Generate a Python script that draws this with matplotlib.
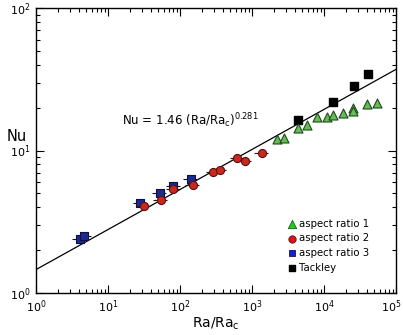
import numpy as np
import matplotlib
matplotlib.use("Agg")
import matplotlib.pyplot as plt
from matplotlib.ticker import LogLocator, NullFormatter, FixedLocator, FixedFormatter

# Data (Ra/Rac, Nu)
ar1_x = [2245, 2780, 4400, 5860, 7910, 10900, 13500, 18600, 25500, 25500, 40000, 53900]
ar1_y = [12.0, 12.2, 14.5, 15.2, 17.1, 17.3, 17.8, 18.4, 19.8, 19.0, 21.2, 21.6]

ar2_x = [31.9, 54.5, 80.7, 150, 290, 359, 625, 800, 1364]
ar2_y = [4.08, 4.49, 5.34, 5.70, 7.03, 7.30, 8.81, 8.48, 9.65]

ar3_x = [4.08, 4.69, 28.1, 52.7, 80.7, 141]
ar3_y = [2.38, 2.51, 4.30, 5.01, 5.66, 6.28]

tack_x = [4400, 13500, 26100, 40800]
tack_y = [16.4, 21.9, 28.4, 34.4]

xerr_frac = 0.22  # relative horizontal error bar half-width (ar2, ar3)

x_ticks = [1, 10, 100, 1000, 10000, 100000]
x_ticklabels = ['$10^{0}$', '$10^{1}$', '$10^{2}$', '$10^{3}$', '$10^{4}$', '$10^{5}$']

fit_coef = 1.46
fit_exp = 0.281
fit_range = [1.0, 1.0e5]

plt.rcParams['font.family'] = ['DejaVu Sans']
fig = plt.figure(figsize=(4.03, 3.35), dpi=100)
ax = fig.add_axes([36/403, 1-293/335, 360/403, 285/335])

xs = np.logspace(np.log10(fit_range[0]), np.log10(fit_range[1]), 200)
ax.plot(xs, fit_coef * xs**fit_exp, color='black', lw=0.9, zorder=2)

ax.scatter(tack_x, tack_y, marker='s', s=32, color='black', zorder=3)

a3x = np.array(ar3_x); a2x = np.array(ar2_x)
ax.errorbar(a3x, ar3_y, xerr=[a3x*xerr_frac, a3x*xerr_frac], fmt='none', ecolor='#101030', elinewidth=0.8, capsize=0, zorder=3.5)
ax.scatter(ar3_x, ar3_y, marker='s', s=32, facecolor='#1c2a8c', edgecolor='#101040', lw=0.8, zorder=4)
ax.errorbar(a2x, ar2_y, xerr=[a2x*xerr_frac, a2x*xerr_frac], fmt='none', ecolor='#301010', elinewidth=0.8, capsize=0, zorder=4.5)
ax.scatter(ar2_x, ar2_y, marker='o', s=34, facecolor='#c8281e', edgecolor='#5a1010', lw=0.8, zorder=5)
ax.scatter(ar1_x, ar1_y, marker='^', s=42, facecolor='#66bb55', edgecolor='#1c4a1c', lw=0.8, zorder=6)

ax.set_xscale('log')
ax.set_yscale('log')
ax.set_xlim(1, 1e5)
ax.set_ylim(1, 100)

ax.xaxis.set_major_locator(FixedLocator(x_ticks))
ax.xaxis.set_major_formatter(FixedFormatter(x_ticklabels[:-1] + ['']))
ax.xaxis.set_minor_locator(LogLocator(base=10, subs=np.arange(2, 10), numticks=20))
ax.yaxis.set_major_locator(LogLocator(base=10, numticks=10))
ax.yaxis.set_minor_locator(LogLocator(base=10, subs=np.arange(2, 10), numticks=20))
ax.xaxis.set_minor_formatter(NullFormatter())
ax.yaxis.set_minor_formatter(NullFormatter())
ax.tick_params(which='both', direction='in', top=True, right=True, labelsize=8, width=0.8)
ax.tick_params(which='major', length=6, pad=4)
ax.tick_params(which='minor', length=3)
for s in ax.spines.values():
    s.set_linewidth(1.0)

# last x tick label, kept inside the figure
ax.text(1.014, -0.0175, x_ticklabels[-1], transform=ax.transAxes, ha='right', va='top', fontsize=8)

ax.set_xlabel('Ra/Ra$_{\\mathrm{c}}$', fontsize=10, labelpad=0)
ax.set_ylabel('Nu', fontsize=10.5, rotation=0, va='center', ha='center')
ax.yaxis.set_label_coords(-0.053, 0.548)

ax.text(0.238, 0.603, 'Nu = 1.46 (Ra/Ra$_{\\mathrm{c}}$)$^{0.281}$', transform=ax.transAxes,
        fontsize=8.5, va='center', ha='left')

h1 = ax.scatter([], [], marker='^', s=36, facecolor='#22cc22', edgecolor='#116611', lw=0.6)
h2 = ax.scatter([], [], marker='o', s=28, facecolor='#dd1111', edgecolor='#661111', lw=0.6)
h3 = ax.scatter([], [], marker='s', s=22, facecolor='#1122cc', edgecolor='#111166', lw=0.6)
h4 = ax.scatter([], [], marker='s', s=16, color='black')
ax.legend([h1, h2, h3, h4], ['aspect ratio 1', 'aspect ratio 2', 'aspect ratio 3', 'Tackley'],
          frameon=False, fontsize=7.3, loc='lower right', bbox_to_anchor=(0.945, 0.047),
          handletextpad=0.15, labelspacing=0.45, borderpad=0.2, handlelength=1.0)

fig.savefig('out.png', dpi=100)
